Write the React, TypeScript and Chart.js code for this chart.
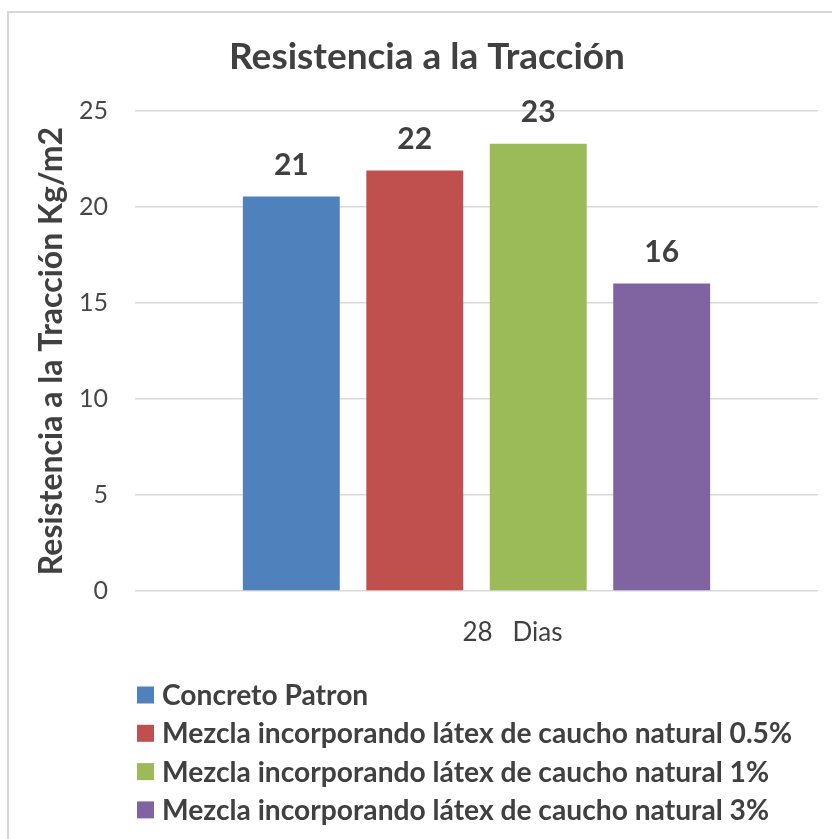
import React, { useEffect, useRef } from "react";
import { Chart, registerables } from "chart.js";

Chart.register(...registerables);

const chartTitle = "Resistencia a la Tracción";
const yAxisTitle = "Resistencia a la Tracción Kg/m2";
const categories = ["28   Dias"];
const seriesNames = [
  "Concreto Patron",
  "Mezcla incorporando látex de caucho natural 0.5%",
  "Mezcla incorporando látex de caucho natural 1%",
  "Mezcla incorporando látex de caucho natural 3%",
];
const concretoPatron = [20.55];
const mezcla05 = [21.9];
const mezcla1 = [23.3];
const mezcla3 = [16.02];
const seriesColors = ["#4F81BD", "#C0504D", "#9BBB59", "#8064A2"];
const yMin = 0;
const yMax = 25;
const yStep = 5;

const FONT = "Lato, 'Noto Sans', sans-serif";
const DARK = "#404040";
const TICK = "#474747";

const dataLabelPlugin = {
  id: "dataLabels",
  afterDatasetsDraw(chart: any) {
    const ctx = chart.ctx;
    ctx.save();
    ctx.font = `bold 30px ${FONT}`;
    ctx.fillStyle = DARK;
    ctx.textAlign = "center";
    ctx.textBaseline = "middle";
    chart.data.datasets.forEach((ds: any, i: number) => {
      const meta = chart.getDatasetMeta(i);
      meta.data.forEach((el: any, j: number) => {
        const v = ds.data[j];
        ctx.fillText(String(Math.round(v)), el.x, el.y - 31);
      });
    });
    ctx.restore();
  },
};

const legendPlugin = {
  id: "customLegend",
  afterDraw(chart: any) {
    const ctx = chart.ctx;
    const area = chart.chartArea;
    ctx.save();
    ctx.font = `bold 28.2px ${FONT}`;
    ctx.textAlign = "left";
    ctx.textBaseline = "middle";
    chart.data.datasets.forEach((ds: any, i: number) => {
      const cy = area.bottom + 104 + i * 38.3;
      const x0 = area.left + 2;
      ctx.fillStyle = ds.backgroundColor;
      ctx.fillRect(x0, cy - 8.5, 17, 17);
      ctx.fillStyle = DARK;
      ctx.fillText(ds.label, x0 + 25, cy + 1);
    });
    ctx.restore();
  },
};

export default function App() {
  const ref = useRef<HTMLCanvasElement | null>(null);

  useEffect(() => {
    if (!ref.current) return;
    const seriesData = [concretoPatron, mezcla05, mezcla1, mezcla3];
    const chart = new Chart(ref.current, {
      type: "bar",
      data: {
        labels: categories,
        datasets: seriesNames.map((name, i) => ({
          label: name,
          data: seriesData[i],
          backgroundColor: seriesColors[i],
          borderWidth: 0,
          categoryPercentage: 0.723,
          barPercentage: 0.785,
        })),
      },
      options: {
        responsive: false,
        animation: false,
        devicePixelRatio: 1,
        layout: { padding: { left: 0, right: 0, top: 0, bottom: 201 } },
        plugins: {
          legend: { display: false },
          tooltip: { enabled: false },
          title: {
            display: true,
            text: chartTitle,
            color: DARK,
            font: { family: FONT, size: 37, weight: "bold" },
            padding: { top: 23, bottom: 31.6 },
          },
        },
        scales: {
          x: {
            grid: { display: false },
            border: { display: false },
            ticks: {
              color: DARK,
              font: { family: FONT, size: 26 },
              padding: 18,
              labelOffset: 36,
            },
            afterFit: (s: any) => {
              s.height = 60;
            },
          },
          y: {
            min: yMin,
            max: yMax,
            grid: { color: "#D9D9D9", lineWidth: 1.5, drawTicks: false },
            border: { display: false },
            ticks: {
              stepSize: yStep,
              color: TICK,
              font: { family: FONT, size: 25 },
              padding: 27,
            },
            title: {
              display: true,
              text: yAxisTitle,
              color: DARK,
              font: { family: FONT, size: 32, weight: "bold" },
              padding: { top: 24, bottom: 0 },
            },
            afterFit: (s: any) => {
              s.width = 127;
            },
          },
          y2: {
            position: "right",
            display: true,
            grid: { display: false },
            border: { display: false },
            ticks: { display: false },
            afterFit: (s: any) => {
              s.width = 28;
            },
          },
        },
      },
      plugins: [dataLabelPlugin, legendPlugin],
    } as any);
    return () => chart.destroy();
  }, []);

  return (
    <div
      style={{
        position: "fixed",
        left: 0,
        top: 0,
        width: 832,
        height: 839,
        overflow: "hidden",
        background: "#fff",
      }}
    >
      <div
        style={{
          position: "absolute",
          left: 7,
          top: 11,
          width: 900,
          height: 900,
          borderLeft: "2px solid #D9D9D9",
          borderTop: "2px solid #D9D9D9",
        }}
      />
      <canvas
        ref={ref}
        width={838}
        height={840}
        style={{ position: "absolute", left: 8, top: 12, width: 838, height: 840 }}
      />
    </div>
  );
}
